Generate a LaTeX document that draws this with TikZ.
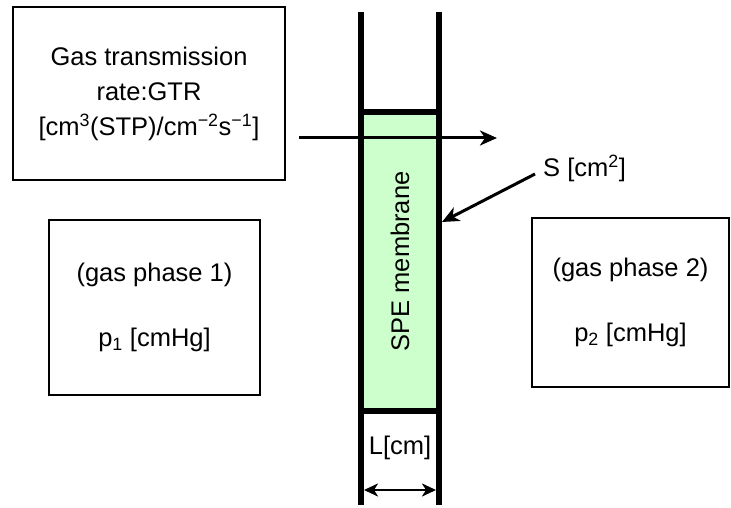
\documentclass[tikz,border=0pt]{standalone}
\usepackage{fontspec}
\setmainfont{Liberation Sans}
\usetikzlibrary{arrows.meta}
\definecolor{spegreen}{HTML}{CCFFCC}
\tikzset{
  txt/.style={font=\fontsize{25.5}{35}\selectfont, align=center, inner sep=0pt},
  phasebox/.style={draw, line width=2pt, txt},
  wall/.style={line width=6pt},
  arr/.style={line width=3pt, -{Stealth[length=17pt,width=15pt,inset=5pt]}},
  dim/.style={line width=2.8pt, {Stealth[length=14pt,width=13pt,inset=4pt]}-{Stealth[length=14pt,width=13pt,inset=4pt]}},
}
\begin{document}
\begin{tikzpicture}[x=1pt,y=-1pt]
\useasboundingbox (0,0) rectangle (731,508);
\node[phasebox, minimum width=272pt, minimum height=173pt] (gtr) at (149,93.5) {Gas transmission\\rate:GTR\\{[}cm\textsuperscript{3}(STP)/cm\textsuperscript{−2}s\textsuperscript{−1}]};
\node[phasebox, minimum width=211pt, minimum height=175pt] (ph1) at (154.5,307.5) {(gas phase 1)\\[30pt]p\textsubscript{1} [cmHg]};
\node[phasebox, minimum width=197pt, minimum height=169pt] (ph2) at (630.5,302.5) {(gas phase 2)\\[30pt]p\textsubscript{2} [cmHg]};
\node[fill=spegreen, minimum width=78pt, minimum height=299pt, inner sep=0pt] (memb) at (400,261.5) {};
\node[txt, rotate=90] (spe) at (memb.center) {SPE membrane};
\draw[wall] (361,12) -- (361,505); \draw[wall] (439,12) -- (439,505);
\draw[wall] (memb.north west) -- (memb.north east); \draw[wall] (memb.south west) -- (memb.south east);
\coordinate (fin) at (299,138); \coordinate (fout) at (497,138);
\draw[arr] (fin) -- (fout);
\node[txt, anchor=west] (area) at (543,168) {S [cm\textsuperscript{2}]};
\coordinate (hit) at (442,222);
\draw[arr] ([xshift=-8pt,yshift=-6pt]area.west) -- (hit);
\node[txt] (len) at (400,448) {L[cm]};
\coordinate (la) at (364,490); \coordinate (lb) at (436,490);
\draw[dim] (la) -- (lb);
\end{tikzpicture}
\end{document}
